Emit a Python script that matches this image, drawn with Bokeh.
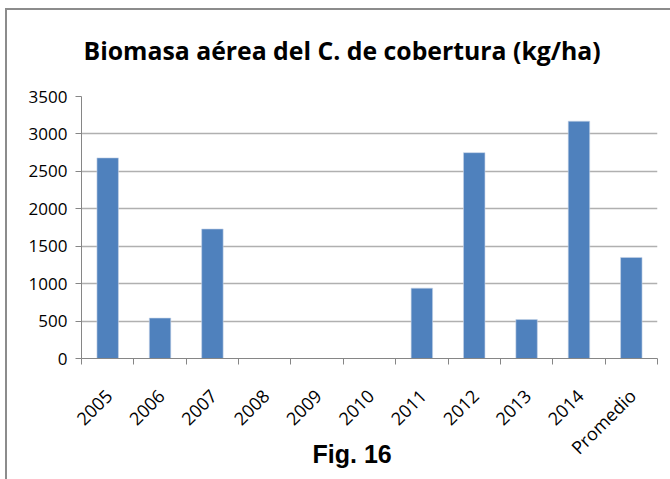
import math
import numpy as np
from bokeh.plotting import figure
from bokeh.layouts import column
from bokeh.models import FixedTicker, ColumnDataSource, Label
from bokeh.embed import file_html
from bokeh.resources import INLINE

categories = ["2005", "2006", "2007", "2008", "2009", "2010",
              "2011", "2012", "2013", "2014", "Promedio"]
biomasa = [2680, 540, 1730, 0, 0, 0, 940, 2750, 520, 3170, 1350]
y_ticks = [0, 500, 1000, 1500, 2000, 2500, 3000, 3500]
title_text = "Biomasa aérea del C. de cobertura (kg/ha)"
caption_text = "Fig. 16"

n = len(categories)
centers = (np.arange(n) + 0.5).tolist()
bounds = np.arange(n + 1).tolist()
# rotated labels end slightly right of the category centre (as in the original)
label_pos = (np.arange(n) + 0.52).tolist()

TOTAL_W = 663
HEAD_H = 74

# ---- header with the chart title ----
head = figure(width=TOTAL_W, height=HEAD_H, x_range=(0, TOTAL_W),
              y_range=(0, HEAD_H), min_border=0,
              min_border_left=0, min_border_right=0,
              min_border_top=0, min_border_bottom=0,
              output_backend="svg", toolbar_location=None)
head.axis.visible = False
head.grid.visible = False
head.outline_line_color = None
head.add_layout(Label(x=2, y=35, x_units="screen", y_units="screen",
                      text=title_text, text_align="left",
                      text_baseline="alphabetic", text_font="Open Sans",
                      text_font_style="bold", text_font_size="24.8px",
                      text_color="#000000"))

# ---- main bar chart ----
src = ColumnDataSource(dict(x=centers, top=biomasa, cat=categories))

p = figure(frame_width=576, frame_height=262,
           min_border_left=74, min_border_top=12,
           min_border_right=13, min_border_bottom=121,
           x_range=(0, n), y_range=(0, 3500),
           output_backend="svg", toolbar_location=None)

p.vbar(x="x", top="top", width=0.41, bottom=0, source=src,
       fill_color="#4f81bd", line_color="#c6d4e8", line_width=0.6)

p.outline_line_color = None
p.xgrid.visible = False
p.ygrid.grid_line_color = "#b0b0b0"
p.ygrid.grid_line_width = 1.5
p.ygrid.ticker = FixedTicker(ticks=y_ticks)

# Y axis
p.yaxis.ticker = FixedTicker(ticks=y_ticks)
p.yaxis.axis_line_color = "#868686"
p.yaxis.major_tick_line_color = "#868686"
p.yaxis.major_tick_out = 6
p.yaxis.major_tick_in = 0
p.yaxis.minor_tick_line_color = None
p.yaxis.major_label_text_font = "Open Sans"
p.yaxis.major_label_text_font_size = "17px"
p.yaxis.major_label_text_color = "#000000"
p.yaxis.major_label_standoff = 8

# X axis: labels near centres, tick marks at category boundaries
p.xaxis.ticker = FixedTicker(ticks=label_pos, minor_ticks=bounds)
p.xaxis.major_label_overrides = {c: lab for c, lab in zip(label_pos, categories)}
p.xaxis.axis_line_color = "#868686"
p.xaxis.major_tick_line_color = None
p.xaxis.minor_tick_line_color = "#868686"
p.xaxis.minor_tick_out = 6
p.xaxis.minor_tick_in = 0
p.xaxis.major_label_orientation = math.pi / 4
p.xaxis.major_label_text_font = "Open Sans"
p.xaxis.major_label_text_font_size = "18px"
p.xaxis.major_label_text_color = "#000000"
p.xaxis.major_label_standoff = 28

# caption "Fig. 16" (non-breaking spaces shift it left of the frame centre)
p.xaxis.axis_label = caption_text + "\u00a0" * 5
p.xaxis.axis_label_standoff = -31
p.xaxis.axis_label_text_font = "Liberation Sans"
p.xaxis.axis_label_text_font_style = "bold"
p.xaxis.axis_label_text_font_size = "25px"
p.xaxis.axis_label_text_color = "#000000"

layout = column(head, p, spacing=0,
                styles={"border-top": "2px solid #8c8c8c",
                        "border-left": "2px solid #8c8c8c",
                        "margin-top": "8px", "margin-left": "5px"})

open("out.html", "w").write(file_html(layout, INLINE))
